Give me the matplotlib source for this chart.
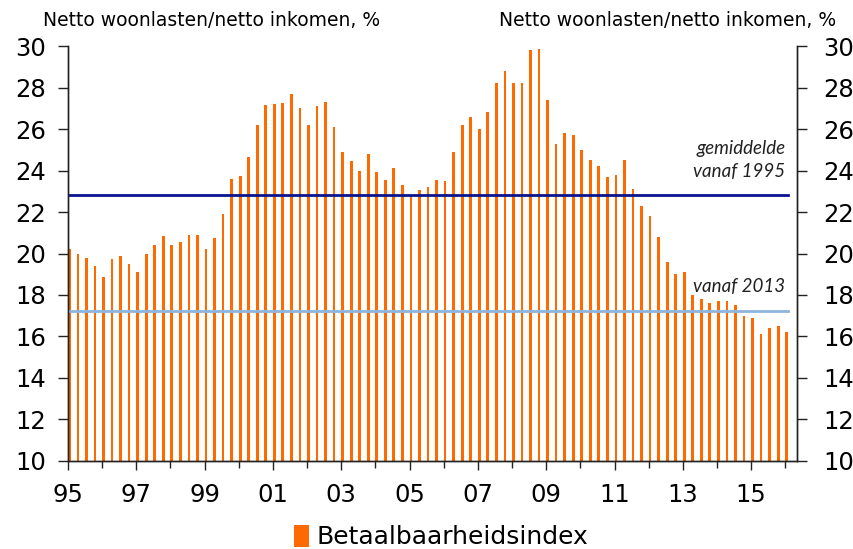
import numpy as np
import matplotlib
matplotlib.use("Agg")
import matplotlib.pyplot as plt

# Betaalbaarheidsindex, kwartaalcijfers 1995K1 - 2016K1
start_year = 1995
index_values = [
    20.2, 20.0, 19.8, 19.4, 18.85, 19.75, 19.9, 19.5, 19.1, 20.0,
    20.4, 20.85, 20.4, 20.55, 20.9, 20.9, 20.2, 20.75, 21.9, 23.6,
    23.75, 24.65, 26.2, 27.15, 27.2, 27.25, 27.7, 27.0, 26.2, 27.1,
    27.3, 26.1, 24.9, 24.45, 24.0, 24.8, 23.95, 23.55, 24.1, 23.3,
    22.75, 23.05, 23.2, 23.55, 23.5, 24.9, 26.2, 26.6, 26.0, 26.8,
    28.2, 28.8, 28.2, 28.2, 29.8, 29.85, 27.4, 25.3, 25.8, 25.7,
    25.0, 24.5, 24.2, 23.7, 23.8, 24.5, 23.1, 22.3, 21.8, 20.8,
    19.6, 19.0, 19.1, 18.0, 17.8, 17.6, 17.7, 17.7, 17.5, 17.0,
    16.9, 16.1, 16.4, 16.5, 16.2,
]
avg_since_1995 = 22.8
avg_since_2013 = 17.25

label_years = list(range(1995, 2016, 2))
tick_labels = [f"{y % 100:02d}" for y in label_years]
minor_years = list(range(1996, 2017, 2))
y_ticks = list(range(10, 31, 2))

axis_title = "Netto woonlasten/netto inkomen, %"
legend_label = "Betaalbaarheidsindex"

ORANGE = "#FF6A00"
DARK_BLUE = "#0A1490"
LIGHT_BLUE = "#8EB4DE"
AXIS = "#222222"

plt.rcParams["font.family"] = ["DejaVu Sans"]

fig = plt.figure(figsize=(8.54, 5.49), dpi=100)
ax = fig.add_axes([0.0796, 0.1603, 0.8536, 0.7559])

# bars staan aan het begin van elk kwartaal
x = start_year + 0.25 * np.arange(len(index_values))
ax.bar(x, index_values, width=0.08, align="edge", color=ORANGE,
       label=legend_label, zorder=2)

x_end = x[-1] + 0.08
ax.plot([start_year, x_end], [avg_since_1995] * 2, color=DARK_BLUE, lw=2.0, zorder=3)
ax.plot([start_year, x_end], [avg_since_2013] * 2, color=LIGHT_BLUE, lw=2.0, zorder=3)

ax.set_xlim(start_year, 2016.34)
ax.set_ylim(10, 30)

ax.set_xticks(label_years)
ax.set_xticklabels(tick_labels)
ax.set_xticks(minor_years, minor=True)
ax.tick_params(axis="x", which="major", direction="out", length=6.5, width=1.0,
               color=AXIS, labelsize=17.5, pad=9)
ax.tick_params(axis="x", which="minor", direction="out", length=5, width=1.0,
               color=AXIS)
ax.set_yticks(y_ticks)
ax.tick_params(axis="y", direction="out", length=7, width=1.0, color=AXIS,
               labelsize=17.5, pad=9)

# rechter as met dezelfde schaal
ax2 = ax.twinx()
ax2.set_ylim(10, 30)
ax2.set_yticks(y_ticks)
ax2.tick_params(axis="y", direction="out", length=7, width=1.0, color=AXIS,
                labelsize=17.5, pad=12)

for a in (ax, ax2):
    a.spines["top"].set_visible(False)
    for s in ("left", "right", "bottom"):
        a.spines[s].set_color(AXIS)
        a.spines[s].set_linewidth(1.0)

fig.text(0.05, 0.953, axis_title, fontsize=13.5, ha="left", va="baseline")
fig.text(0.979, 0.953, axis_title, fontsize=13.5, ha="right", va="baseline")

note_font = dict(family="Lato", style="italic", fontsize=13.5, ha="right",
                 va="center", color="#222222")
ax.text(2016.0, 25.08, "gemiddelde", **note_font)
ax.text(2016.0, 23.94, "vanaf 1995", **note_font)
ax.text(2016.0, 18.42, "vanaf 2013", **note_font)

fig.legend(loc="center", bbox_to_anchor=(0.517, 0.022), frameon=False,
           fontsize=18, handlelength=0.6, handleheight=1.0, handletextpad=0.3,
           borderaxespad=0)

fig.savefig("out.png", dpi=100)
